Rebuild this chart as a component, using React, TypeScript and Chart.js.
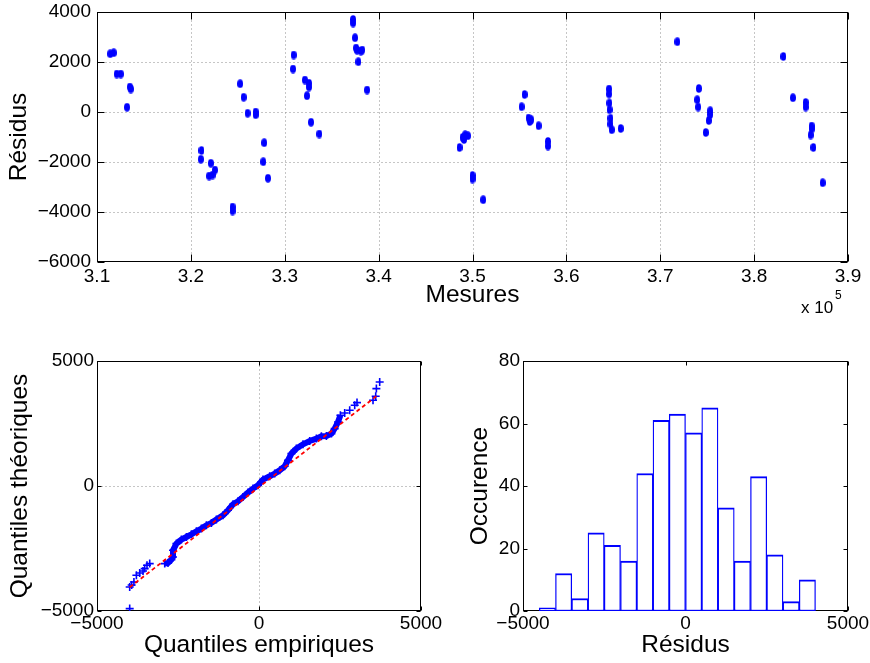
import React, { useEffect, useRef } from 'react';
import { Chart, registerables } from 'chart.js';
Chart.register(...registerables);

const FONT = '"Liberation Sans", Arial, Helvetica, sans-serif';
const BLUE = '#0000ff';
const RED = '#ff0000';

// ---- Top plot: residuals vs measures ----
const mesuresX = [
  311410, 311780, 312100, 312530, 313500, 313600, 313200, 321130, 321060, 322130,
  321950, 322310, 322560, 324440, 324440, 325250, 325620, 326040, 326900, 326900,
  327810, 327710, 328210, 330950, 330880, 332150, 332580, 332580, 332370, 332800,
  333680, 337280, 337280, 337490, 337600, 337700, 338100, 338250, 337840, 338770,
  348620, 348940, 349100, 349220, 349510, 350000, 350000, 351140, 355550, 355230,
  355970, 356100, 356260, 357040, 358040, 358040, 364550, 364550, 364580, 364600,
  364700, 364700, 364830, 365790, 371820, 374110, 373940, 374040, 375320, 375320,
  375170, 374850, 383110, 384130, 385490, 385490, 386130, 386130, 386020, 386310,
  387300,
];
const residus = [
  2330, 2370, 1520, 1520, 1000, 920, 190, -1540, -1890, -2050,
  -2560, -2520, -2320, -3800, -3960, 1130, 590, -50, 0, -110,
  -1230, -1990, -2650, 2280, 1720, 1280, 1150, 1000, 650, -410,
  -880, 3700, 3560, 2970, 2560, 2470, 2440, 2480, 2010, 880,
  -1420, -1020, -1100, -910, -950, -2540, -2680, -3510, 700, 210,
  -240, -380, -310, -550, -1180, -1360, 920, 720, 360, 90,
  -250, -480, -710, -660, 2810, 940, 490, 200, 50, -100,
  -340, -820, 2220, 570, 380, 200, -560, -680, -920, -1420,
  -2830,
];
const topXTicks = { min: 310000, max: 390000, step: 10000 };
const topYTicks = { min: -6000, max: 4000, step: 2000 };

// ---- QQ plot ----
const qqLowEmp = [-3991, -3991, -3930, -3860, -3784, -3682, -3580, -3528, -3457, -3373];
const qqLowTheo = [-4904, -4040, -3960, -3840, -3572, -3480, -3400, -3304, -3172, -3104];
const qqMidEmp = [
  -2910, -2809, -2704, -2654, -2654, -2549, -2395, -2241, -2086, -1932,
  -1778, -1623, -1469, -1315, -1111, -957, -802, -648, -494, -340,
  -185, -31, 123, 330, 485, 639, 793, 895, 1000, 1154,
  1358, 1565, 1772, 1926, 2080, 2235, 2336, 2438, 2512,
];
const qqMidTheo = [
  -3104, -3080, -2944, -2840, -2572, -2304, -2144, -2040, -1932, -1812,
  -1704, -1572, -1480, -1344, -1172, -972, -732, -612, -440, -264,
  -104, 28, 256, 388, 496, 628, 788, 1028, 1296, 1496,
  1668, 1800, 1896, 1988, 2000, 2096, 2296, 2560, 2828,
];
const qqHighEmp = [2645, 2799, 2954, 3025, 3519, 3602, 3623, 3725];
const qqHighTheo = [2920, 3028, 3228, 3336, 3428, 3588, 3896, 4160];
const qqLineEmp = [-3991, 3650];
const qqLineTheo = [-4050, 3620];
const qqTicks = { min: -5000, max: 5000, step: 5000 };

// ---- Histogram ----
const histCenters = [-4750, -4250, -3750, -3250, -2750, -2250, -1750, -1250, -750, -250, 250, 750, 1250, 1750, 2250, 2750, 3250, 3750, 4250];
const histCounts = [0, 1, 12, 4, 25, 21, 16, 44, 61, 63, 57, 65, 33, 16, 43, 18, 3, 10, 0];
const histYTicks = { min: 0, max: 80, step: 20 };

const minus = (v: number | string) => String(v).replace('-', '\u2212');
const pts = (xs: number[], ys: number[]) => xs.map((x, i) => ({ x, y: ys[i] }));

function makeBox(tickLen: number, grid: boolean) {
  return {
    id: 'mbox',
    beforeDatasetsDraw(chart: any) {
      const { ctx, chartArea: a, scales } = chart;
      const xs = scales.x;
      const ys = scales.y;
      const L = Math.round(a.left) + 0.5;
      const R = Math.round(a.right) - 0.5;
      const T = Math.round(a.top) + 0.5;
      const B = Math.round(a.bottom) - 0.5;
      ctx.save();
      if (grid) {
        ctx.strokeStyle = '#8c8c8c';
        ctx.lineWidth = 1;
        ctx.setLineDash([1, 3]);
        xs.ticks.forEach((t: any) => {
          const p = Math.round(xs.getPixelForValue(t.value)) + 0.5;
          if (p > L + 2 && p < R - 2) {
            ctx.beginPath(); ctx.moveTo(p, T); ctx.lineTo(p, B); ctx.stroke();
          }
        });
        ys.ticks.forEach((t: any) => {
          const p = Math.round(ys.getPixelForValue(t.value)) + 0.5;
          if (p > T + 2 && p < B - 2) {
            ctx.beginPath(); ctx.moveTo(L, p); ctx.lineTo(R, p); ctx.stroke();
          }
        });
      }
      ctx.setLineDash([]);
      ctx.strokeStyle = '#000';
      ctx.lineWidth = 1;
      ctx.strokeRect(L, T, R - L, B - T);
      ctx.beginPath();
      xs.ticks.forEach((t: any) => {
        const p = Math.round(xs.getPixelForValue(t.value)) + 0.5;
        ctx.moveTo(p, B); ctx.lineTo(p, B - tickLen);
        ctx.moveTo(p, T); ctx.lineTo(p, T + tickLen);
      });
      ys.ticks.forEach((t: any) => {
        const p = Math.round(ys.getPixelForValue(t.value)) + 0.5;
        ctx.moveTo(L, p); ctx.lineTo(L + tickLen, p);
        ctx.moveTo(R, p); ctx.lineTo(R - tickLen, p);
      });
      ctx.stroke();
      ctx.restore();
    },
  };
}

const exponentLabel = {
  id: 'exp',
  afterDraw(chart: any) {
    const { ctx } = chart;
    ctx.save();
    ctx.fillStyle = '#000';
    ctx.textBaseline = 'alphabetic';
    ctx.textAlign = 'left';
    ctx.font = `17px ${FONT}`;
    ctx.fillText('x 10', 801, 313);
    ctx.font = `12px ${FONT}`;
    ctx.fillText('5', 835, 299);
    ctx.restore();
  },
};

const TICK = 19;
const LABEL = 24.5;

const zeroPad = (s: any) => {
  s.paddingTop = 0;
  s.paddingBottom = 0;
  s.paddingLeft = 0;
  s.paddingRight = 0;
};

function xAxis(t: any, title: string, tickPad: number, titlePad: number, height: number, cb?: any) {
  return {
    type: 'linear',
    position: 'bottom',
    min: t.min,
    max: t.max,
    offset: false,
    grid: { display: false, drawTicks: false, offset: false },
    border: { display: false },
    ticks: {
      stepSize: t.step,
      padding: tickPad,
      autoSkip: false,
      maxRotation: 0,
      color: '#000',
      font: { family: FONT, size: TICK },
      callback: cb || ((v: any) => minus(v)),
    },
    title: {
      display: true,
      text: title,
      color: '#000',
      font: { family: FONT, size: LABEL },
      padding: { top: 0, bottom: titlePad },
    },
    afterFit: (s: any) => { s.height = height; zeroPad(s); },
  };
}

function yAxis(t: any, title: string, tickPad: number, titlePad: number, width: number) {
  return {
    type: 'linear',
    position: 'left',
    min: t.min,
    max: t.max,
    grid: { display: false, drawTicks: false },
    border: { display: false },
    ticks: {
      stepSize: t.step,
      padding: tickPad,
      autoSkip: false,
      color: '#000',
      font: { family: FONT, size: TICK },
      callback: (v: any) => minus(v),
    },
    title: {
      display: true,
      text: title,
      color: '#000',
      font: { family: FONT, size: LABEL },
      padding: { top: titlePad, bottom: 0 },
    },
    afterFit: (s: any) => { s.width = width; zeroPad(s); },
  };
}

const baseOpts = {
  animation: false,
  responsive: false,
  maintainAspectRatio: false,
  events: [],
  plugins: { legend: { display: false }, tooltip: { enabled: false } },
};

const crossPts = {
  pointStyle: 'cross',
  pointRadius: 4,
  pointBorderWidth: 1.6,
  pointBorderColor: BLUE,
  borderColor: BLUE,
};

export default function App() {
  const r1 = useRef<HTMLCanvasElement>(null);
  const r2 = useRef<HTMLCanvasElement>(null);
  const r3 = useRef<HTMLCanvasElement>(null);

  useEffect(() => {
    const dot = document.createElement('canvas');
    dot.width = 6;
    dot.height = 9;
    const dctx = dot.getContext('2d')!;
    dctx.fillStyle = BLUE;
    dctx.beginPath();
    dctx.ellipse(3, 4.5, 3, 4.3, 0, 0, Math.PI * 2);
    dctx.fill();

    const c1 = new Chart(r1.current!, {
      type: 'scatter',
      data: {
        datasets: [{
          data: pts(mesuresX, residus),
          pointStyle: dot as any,
          pointRadius: 3,
          backgroundColor: BLUE,
          borderColor: BLUE,
        }],
      },
      options: {
        ...baseOpts,
        layout: { padding: { top: 12, right: 22, left: 0, bottom: 0 } },
        scales: {
          x: xAxis(topXTicks, 'Mesures', 3, 20, 68, (v: any) => (Number(v) / 1e5).toFixed(1)),
          y: yAxis(topYTicks, 'Résidus', 6, 5, 97),
        },
      } as any,
      plugins: [makeBox(7, true), exponentLabel],
    });

    const c2 = new Chart(r2.current!, {
      type: 'scatter',
      data: {
        datasets: [
          {
            data: pts(qqLineEmp, qqLineTheo),
            showLine: true,
            borderColor: RED,
            borderWidth: 1.8,
            borderDash: [4, 3],
            pointRadius: 0,
          },
          {
            data: pts(qqMidEmp, qqMidTheo),
            showLine: true,
            borderWidth: 6,
            ...crossPts,
          },
          { data: pts(qqLowEmp, qqLowTheo), ...crossPts },
          { data: pts(qqHighEmp, qqHighTheo), ...crossPts },
        ],
      },
      options: {
        ...baseOpts,
        layout: { padding: { top: 31, right: 29, left: 0, bottom: 0 } },
        scales: {
          x: xAxis(qqTicks, 'Quantiles empiriques', 1, 3, 52),
          y: yAxis(qqTicks, 'Quantiles théoriques', 3, 6, 97),
        },
      } as any,
      plugins: [makeBox(4, true)],
    });

    const c3 = new Chart(r3.current!, {
      type: 'bar',
      data: {
        datasets: [{
          data: pts(histCenters, histCounts),
          backgroundColor: '#ffffff',
          borderColor: BLUE,
          borderWidth: { top: 2, left: 1.3, right: 1.3, bottom: 1.5 },
          borderSkipped: false,
          barPercentage: 1,
          categoryPercentage: 1,
        }],
      },
      options: {
        ...baseOpts,
        layout: { padding: { top: 31, right: 22, left: 0, bottom: 0 } },
        scales: {
          x: xAxis(qqTicks, 'Résidus', 1, 3, 52),
          y: yAxis(histYTicks, 'Occurence', 3, 16, 73),
        },
      } as any,
      plugins: [makeBox(4, false)],
    });

    return () => { c1.destroy(); c2.destroy(); c3.destroy(); };
  }, []);

  return (
    <div style={{ position: 'absolute', left: 0, top: 0, width: 870, height: 663, background: '#fff' }}>
      <canvas ref={r1} width={870} height={330} style={{ position: 'absolute', left: 0, top: 0 }} />
      <canvas ref={r2} width={450} height={333} style={{ position: 'absolute', left: 0, top: 330 }} />
      <canvas ref={r3} width={420} height={333} style={{ position: 'absolute', left: 450, top: 330 }} />
    </div>
  );
}
